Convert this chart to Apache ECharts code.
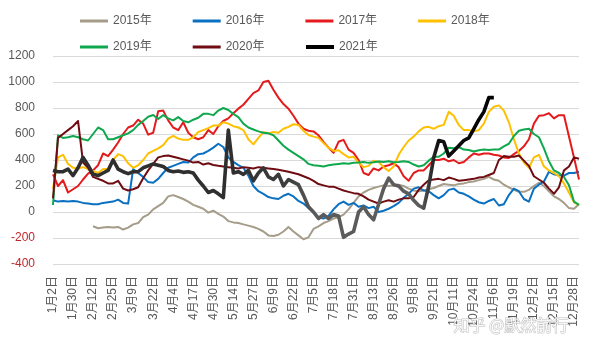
<!DOCTYPE html>
<html>
<head>
<meta charset="utf-8">
<script src="https://cdn.jsdelivr.net/npm/echarts@6/dist/echarts.min.js"></script>
<style>
  html, body { margin: 0; padding: 0; background: #fff; }
  #main { width: 600px; height: 351px; }
</style>
</head>
<body>
<div id="main"></div>
<script>
    // 横轴标签（每4个点一个标签）
    var dateLabels = ['1月2日', '1月30日', '2月12日', '2月25日', '3月9日', '3月22日', '4月4日', '4月17日', '4月30日',
        '5月14日', '5月27日', '6月9日', '6月22日', '7月5日', '7月18日', '7月31日', '8月13日', '8月26日', '9月8日',
        '9月21日', '10月11日', '10月24日', '11月6日', '11月19日', '12月2日', '12月15日', '12月28日'];
    var yTicks = [-400, -200, 0, 200, 400, 600, 800, 1000, 1200];
    var seriesNames = ['2015年', '2016年', '2017年', '2018年', '2019年', '2020年', '2021年'];

    var s2015 = [null, null, null, null, null, null, null, null,
        -110, -125, -120, -115, -120, -115, -135, -120, -95, -85, -40, -20, 20, 45, 70, 120, 130, 115, 100, 80, 55, 40, 25, -5, 10, -15, -35,
        -70, -80, -85, -95, -105, -115, -130, -150, -180, -185, -175, -150, -115, -150, -180, -210, -195, -130,
        -110, -85, -70, -50, -40, -20, 20, 70, 120, 150, 170, 185, 195, 205, 200, 205, 210, 200,
        180, 165, 160, 165, 175, 185, 200, 215, 210, 205, 215, 220, 230, 235, 245, 255, 270, 250,
        240, 210, 190, 170, 155, 155, 170, 200, 225, 200, 160, 120, 100, 70, 30, 25, 60];
    var s2016 = [90, 80, 85, 80, 85, 80, 70, 65, 60, 60, 70, 75, 80, 95, 70, 65, 330,
        300, 270, 230, 225, 255, 300, 340, 355, 370, 385, 380, 420, 445, 450, 470, 495, 525, 500,
        420, 385, 360, 340, 280, 200, 160, 140, 115, 105, 100, 125, 140, 120, 85, 65, 30, 0,
        -40, -50, -30, 20, 60, 80, 55, 70, 40, 50, 30, 40, 0, 10, 25, 45, 70, 110,
        140, 180, 190, 165, 160, 130, 105, 130, 170, 180, 150, 140, 120, 95, 75, 65, 85, 100,
        50, 60, 130, 180, 160, 100, 80, 180, 210, 235, 310, 290, 280, 280, 300, 300, 310];
    var s2017 = [290, 200, 245, 150, 175, 200, 250, 295, 320, 360, 450, 430, 480, 535, 600, 650, 665,
        710, 680, 595, 610, 775, 780, 705, 650, 630, 690, 610, 575, 560, 575, 630, 600, 660, 700,
        720, 760, 795, 825, 870, 915, 935, 1000, 1010, 940, 880, 830, 795, 740, 680, 640, 625, 620,
        590, 540, 495, 455, 540, 555, 480, 455, 400, 300, 285, 335, 320, 350, 360, 375, 345, 275,
        240, 300, 320, 320, 360, 400, 400, 410, 390, 400, 375, 385, 420, 450, 440, 450, 450, 440,
        435, 420, 415, 445, 470, 505, 560, 680, 740, 745, 760, 720, 745, 745, 580, 420, 250];
    var s2018 = [180, 420, 440, 370, 340, 335, 345, 330, 315, 300, 330, 330, 400, 445, 430, 375, 340,
        360, 400, 450, 470, 490, 515, 565, 585, 565, 555, 555, 575, 615, 630, 645, 665, 665, 690,
        680, 660, 650, 630, 560, 520, 570, 615, 605, 615, 610, 640, 655, 675, 670, 625, 592, 580,
        570, 530, 495, 470, 475, 445, 420, 425, 380, 345, 355, 395, 385, 345,
        315, 350, 440, 500, 550, 580, 620, 650, 655, 640, 660, 670, 770, 740, 670, 630, 630, 620, 630, 680, 770, 810,
        820, 780, 690, 560, 450, 380, 340, 420, 440, 350, 320, 300, 275, 220, 150, 75, 55];
    var s2019 = [54, 590, 570, 575, 585, 575, 560, 550, 600, 650, 630, 560, 560, 575, 590, 605, 630,
        670, 700, 733, 746, 715, 745, 720, 705, 730, 700, 690, 710, 725, 755, 755, 745, 780, 800,
        785, 755, 730, 680, 650, 635, 620, 610, 605, 590, 550, 510, 480, 455, 430, 405, 370, 360,
        355, 350, 360, 365, 370, 375, 372, 378, 380, 385, 378, 382, 388, 385, 390, 383, 385, 390,
        385, 365, 350, 360, 395, 425, 425, 450, 495, 490, 500, 480, 477, 465, 475, 480, 477, 480,
        480, 505, 525, 585, 625, 635, 640, 600, 575, 490, 390, 320, 300, 270, 205, 80, 55];
    var s2020 = [105, 570, 600, 630, 660, 700, 380, 340, 270, 255, 240, 220, 220, 240, 180, 165, 175,
        190, 260, 320, 370, 420, 430, 435, 425, 415, 405, 395, 380, 385, 365, 375, 362, 355, 350,
        345, 340, 335, 345, 340, 335, 345, 340, 335, 330, 325, 318, 310, 300, 290, 275, 260, 240,
        215, 205, 195, 195, 180, 165, 155, 145, 140, 120, 95, 80, 65, 80, 90, 80, 95, 105,
        105, 115, 170, 210, 245, 250, 255, 245, 265, 255, 240, 245, 250, 255, 265, 270, 285, 300,
        400, 430, 425, 425, 435, 395, 355, 275, 250, 225, 180, 140, 190, 320, 350, 420, 410];
    var s2021 = [320, 310, 310, 330, 280, 340, 420, 360, 290, 280, 300, 320, 400, 330, 310, 295, 310,
        310, 340, 355, 370, 360, 350, 320, 310, 315, 305, 310, 300, 245, 200, 150, 165, 140, 110,
        630, 300, 310, 290, 320, 240, 300, 340, 270, 250, 290, 200, 250, 230, 210, 130, 40, 0,
        -50, -20, -50, -20, -30, -195, -170, -150, 0, 40, -20, -60, 60, 180, 260, 210, 200, 160,
        140, 90, 50, 30, 200, 420, 550, 540, 430, 470, 510, 550, 570, 640, 710, 770, 880, 880,
        null, null, null, null, null, null, null, null, null, null, null, null, null, null, null, null, null];

    // 类目：标签之间补3个点，最后多一个点
    var categories = [];
    dateLabels.forEach(function (d, i) {
        categories.push(d);
        var fill = i < dateLabels.length - 1 ? 3 : 1;
        for (var k = 1; k <= fill; k++) categories.push(d + '_' + k);
    });

    var chart = echarts.init(document.getElementById('main'));
    var font = "'Liberation Sans', 'Noto Sans CJK SC', sans-serif";
    var colors = ['#a59c89', '#0a70c2', '#e41a1c', '#ffc000', '#10a84e', '#6e0c12', '#000000'];
    var allData = [s2015, s2016, s2017, s2018, s2019, s2020, s2021];

    var series = seriesNames.map(function (name, i) {
        var lineColor = colors[i];
        if (i === 6) {
            lineColor = new echarts.graphic.LinearGradient(0, 0, 1, 0, [
                { offset: 0, color: '#2f2f2f' },
                { offset: 0.41, color: '#2f2f2f' },
                { offset: 0.54, color: '#3e3e3e' },
                { offset: 0.59, color: '#5a5a5a' },
                { offset: 0.83, color: '#5c5c5c' },
                { offset: 0.87, color: '#111111' },
                { offset: 1, color: '#000000' }
            ]);
        }
        return {
            name: name,
            type: 'line',
            data: allData[i],
            symbol: 'none',
            silent: true,
            color: colors[i],
            lineStyle: { width: i === 6 ? 3.6 : 2, color: lineColor, join: 'round' },
            animation: false
        };
    });

    var legendBase = {
        icon: 'rect',
        itemWidth: 28,
        itemHeight: 3,
        itemGap: 41,
        textStyle: { fontSize: 12, color: '#595959', fontFamily: font }
    };

    var option = {
        backgroundColor: '#fff',
        animation: false,
        legend: [
            Object.assign({}, legendBase, { left: 75, top: 10, data: ['2015年', '2016年', '2017年', '2018年'] }),
            Object.assign({}, legendBase, { left: 75, top: 36, data: ['2019年', '2020年'] }),
            Object.assign({}, legendBase, { left: 301, top: 36, itemHeight: 4,
                data: [{ name: '2021年', itemStyle: { color: '#000' } }] })
        ],
        grid: { left: 53, right: 21, top: 56, bottom: 87 },
        xAxis: {
            type: 'category',
            data: categories,
            boundaryGap: false,
            axisLine: { show: false },
            axisTick: { show: false },
            splitLine: { show: false },
            axisLabel: {
                interval: 3,
                rotate: 90,
                margin: 12,
                fontSize: 12,
                color: '#595959',
                fontFamily: font
            }
        },
        yAxis: {
            type: 'value',
            min: yTicks[0],
            max: yTicks[yTicks.length - 1],
            interval: 200,
            axisLine: { show: false },
            axisTick: { show: false },
            splitLine: { lineStyle: { color: '#d9d9d9', width: 1 } },
            axisLabel: {
                margin: 18,
                fontSize: 12,
                color: '#595959',
                fontFamily: font,
                formatter: function (v) {
                    return v < 0 ? '{neg|' + v + '}' : String(v);
                },
                rich: { neg: { color: '#c0272d', fontSize: 12, fontFamily: font } }
            }
        },
        graphic: [{
            type: 'text',
            left: 453,
            top: 316,
            silent: true,
            style: {
                text: '知乎 @默然前行',
                font: "16px 'Noto Sans CJK SC', sans-serif",
                fill: 'rgba(255,255,255,0.85)',
                stroke: 'rgba(150,150,150,0.6)',
                lineWidth: 1
            },
            z: 100
        }],
        series: series
    };

    chart.setOption(option);
</script>
</body>
</html>
